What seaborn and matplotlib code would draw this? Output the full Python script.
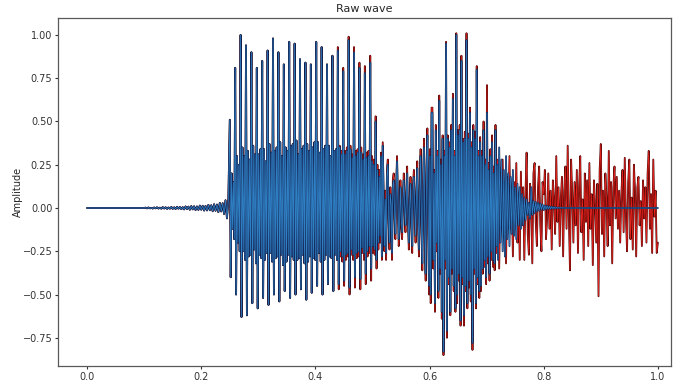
import numpy as np
import matplotlib
matplotlib.use("Agg")
import matplotlib.pyplot as plt
import matplotlib.patheffects as pe
import seaborn as sns

# ---- waveform samples (amplitude), split into time segments ----
lead_vals = [0.0, 0.0]

onset_vals = [
    0.000, 0.002, -0.002, 0.003, -0.002, 0.001, -0.003, 0.003, -0.002, 0.004,
    -0.003, 0.002, -0.004, 0.005, -0.003, 0.004, -0.005, 0.003, -0.004, 0.006,
    -0.005, 0.004, -0.006, 0.007, -0.004, 0.006, -0.007, 0.005, -0.008, 0.009,
    -0.006, 0.008, -0.010, 0.011, -0.008, 0.010, -0.012, 0.009, -0.011, 0.014,
    -0.010, 0.013, -0.015, 0.012, -0.014, 0.018, -0.013, 0.016, -0.019, 0.022,
    -0.016, 0.020, -0.024, 0.030, -0.020, 0.028, -0.035, 0.045, -0.060, 0.050,
]

# one row per pitch period: peak, trough, then the inner ripple
voiced_rows = [
    [0.51, -0.40, 0.20, -0.12, 0.15, -0.18],
    [0.81, -0.50, 0.30, -0.20, 0.25, -0.25],
    [1.00, -0.63, 0.35, -0.25, 0.30, -0.30],
    [0.94, -0.62, 0.33, -0.28, 0.28, -0.27],
    [0.90, -0.55, 0.36, -0.24, 0.31, -0.32],
    [0.81, -0.58, 0.31, -0.27, 0.34, -0.29],
    [0.85, -0.52, 0.34, -0.30, 0.27, -0.26],
    [0.91, -0.56, 0.37, -0.26, 0.32, -0.31],
    [0.98, -0.50, 0.33, -0.29, 0.35, -0.28],
    [0.90, -0.54, 0.38, -0.27, 0.30, -0.33],
    [0.83, -0.48, 0.35, -0.31, 0.33, -0.27],
    [0.96, -0.52, 0.36, -0.28, 0.37, -0.30],
    [0.95, -0.50, 0.39, -0.30, 0.31, -0.29],
    [0.86, -0.47, 0.34, -0.27, 0.36, -0.32],
    [0.84, -0.53, 0.37, -0.31, 0.33, -0.28],
    [0.83, -0.49, 0.35, -0.29, 0.38, -0.30],
    [0.96, -0.45, 0.38, -0.26, 0.32, -0.31],
    [0.93, -0.50, 0.34, -0.30, 0.36, -0.27],
    [0.83, -0.44, 0.36, -0.28, 0.30, -0.29],
    [0.88, -0.48, 0.33, -0.27, 0.34, -0.30],
    [0.91, -0.44, 0.35, -0.25, 0.31, -0.28],
    [0.79, -0.42, 0.31, -0.27, 0.33, -0.26],
    [0.97, -0.46, 0.34, -0.24, 0.29, -0.27],
    [0.90, -0.40, 0.30, -0.26, 0.32, -0.25],
    [0.81, -0.41, 0.32, -0.23, 0.28, -0.26],
    [0.78, -0.38, 0.29, -0.25, 0.30, -0.22],
    [0.84, -0.35, 0.27, -0.22, 0.25, -0.24],
    [0.50, -0.30, 0.22, -0.20, 0.18, -0.16],
]

voiced_rows_raw_tail = [
    [0.93, -0.47, 0.36, -0.28, 0.33, -0.31],
    [0.81, -0.45, 0.33, -0.30, 0.35, -0.28],
    [0.99, -0.50, 0.36, -0.27, 0.31, -0.30],
    [0.93, -0.46, 0.33, -0.29, 0.34, -0.28],
    [0.84, -0.47, 0.35, -0.26, 0.31, -0.30],
    [0.82, -0.44, 0.32, -0.28, 0.33, -0.26],
    [0.88, -0.42, 0.30, -0.26, 0.28, -0.27],
    [0.53, -0.35, 0.25, -0.24, 0.22, -0.20],
]

gap_clean = [
    0.30, -0.28, 0.36, 0.10, -0.22, 0.05, -0.26, 0.18, 0.25, -0.05,
    -0.20, 0.08, 0.02, -0.26, 0.12, 0.16, -0.02, -0.15, 0.10, 0.27,
    0.05, -0.18, -0.08, 0.12, -0.06, -0.14, 0.04, 0.16, 0.02, -0.10,
    0.06, 0.20, -0.04, -0.20, 0.00, 0.14, -0.08, -0.22, 0.10, 0.18,
    0.02, -0.16, 0.06, 0.23, -0.06, -0.24, 0.08, 0.30, -0.10, -0.32,
    0.12, 0.35, -0.15, -0.38, 0.20, 0.42, -0.05, -0.45, 0.30, -0.50,
    0.55,
]

gap_raw = [
    0.32, -0.30, 0.38, 0.05, -0.25, 0.10, -0.30, 0.22, 0.28, -0.08,
    -0.24, 0.12, -0.02, -0.30, 0.16, 0.20, -0.06, -0.18, 0.14, 0.30,
    0.02, -0.22, -0.12, 0.16, -0.10, -0.18, 0.08, 0.20, -0.02, -0.14,
    0.10, 0.24, -0.08, -0.24, 0.04, 0.18, -0.12, -0.26, 0.14, 0.22,
    -0.02, -0.20, 0.10, 0.27, -0.10, -0.28, 0.12, 0.34, -0.14, -0.36,
    0.16, 0.40, -0.20, -0.42, 0.24, 0.46, -0.10, -0.50, 0.34, -0.55,
    0.58,
]

burst_clean = [
    0.55, -0.30, 0.20, -0.55, 0.45, -0.20, 0.30, -0.48, 0.62, -0.35,
    0.25, -0.60, 0.40, -0.83, 0.30, -0.30, 0.95, -0.71, 0.40, -0.40,
    0.35, -0.60, 0.45, -0.35, 0.63, -0.45, 0.30, -0.58, 1.00, -0.50,
    0.42, -0.38, 0.45, -0.65, 0.85, -0.40, 0.38, -0.62, 0.40, -0.45,
    0.97, -0.55, 0.40, -0.42, 0.55, -0.50, 0.35, -0.78, 0.45, -0.35,
    0.40, -0.55, 0.80, -0.40, 0.30, -0.48, 0.38, -0.45, 0.30, -0.35,
    0.45, -0.30, 0.25, -0.40, 0.55, -0.28, 0.22, -0.38, 0.30, -0.25,
    0.38, -0.30, 0.20, -0.32, 0.45, -0.22, 0.25,
]

burst_raw = [
    0.58, -0.35, 0.22, -0.60, 0.48, -0.25, 0.33, -0.52, 0.65, -0.38,
    0.28, -0.64, 0.42, -0.85, 0.33, -0.35, 0.96, -0.75, 0.42, -0.44,
    0.38, -0.62, 0.48, -0.38, 0.66, -0.48, 0.33, -0.60, 1.01, -0.55,
    0.45, -0.42, 0.48, -0.68, 0.88, -0.44, 0.40, -0.68, 0.44, -0.48,
    1.01, -0.58, 0.43, -0.46, 0.58, -0.54, 0.38, -0.82, 0.48, -0.38,
    0.44, -0.58, 0.82, -0.44, 0.33, -0.52, 0.41, -0.48, 0.33, -0.38,
    0.50, -0.34, 0.28, -0.44, 0.71, -0.32, 0.26, -0.42, 0.34, -0.30,
    0.42, -0.34, 0.24, -0.36, 0.48, -0.26, 0.28,
]

decay_clean = [
    -0.30, 0.35, -0.20, 0.28, -0.25, 0.22, -0.28, 0.30, -0.18, 0.20,
    -0.22, 0.18, -0.15, 0.22, -0.16, 0.12, -0.18, 0.14, -0.10, 0.12,
    -0.12, 0.08, -0.10, 0.06, -0.07, 0.05, -0.04, 0.03, -0.06, 0.12,
    -0.04, 0.04, -0.03, 0.035, -0.02, 0.03, -0.015, 0.025, -0.01, 0.02,
    -0.012, 0.015, -0.008, 0.012, -0.006, 0.01, -0.005, 0.008, -0.004, 0.006,
    -0.003, 0.004, -0.002, 0.003, -0.001, 0.002, 0.0, 0.001, 0.0, 0.0,
]

silence_vals = [0.0, 0.0]

tail_raw = [
    0.25, -0.35, 0.10, -0.08, 0.28, -0.15, 0.05, -0.32, 0.18, -0.05,
    0.30, -0.12, 0.08, -0.28, 0.15, -0.06, 0.26, -0.20, 0.04, -0.30,
    0.21, -0.10, 0.12, -0.30, 0.08, 0.32, -0.15, -0.27, 0.14, 0.05,
    -0.32, 0.20, 0.26, -0.08, -0.22, 0.12, 0.24, -0.10, -0.25, 0.15,
    0.08, 0.22, -0.18, -0.06, 0.20, -0.12, 0.10, -0.24, 0.16, 0.05,
    -0.15, 0.30, -0.08, 0.12, -0.22, 0.06, 0.18, -0.28, 0.10, 0.24,
    -0.12, 0.36, -0.05, -0.36, 0.28, 0.08, -0.20, 0.15, -0.10, 0.22,
    -0.26, 0.12, 0.30, -0.14, 0.05, -0.30, 0.20, -0.08, 0.16, -0.22,
    0.26, -0.12, 0.08, -0.33, 0.16, 0.02, -0.20, 0.14, -0.51, 0.22,
    0.37, -0.15, 0.10, -0.28, 0.20, 0.05, -0.22, 0.33, -0.10, 0.15,
    -0.32, 0.12, 0.24, -0.06, 0.18, -0.12, 0.10, -0.20, 0.08, 0.22,
    -0.14, 0.29, -0.05, -0.25, 0.15, 0.28, -0.18, 0.06, -0.24, 0.25,
    0.10, -0.28, 0.12, 0.18, -0.10, 0.04, -0.22, 0.16, -0.06, 0.12,
    -0.20, 0.20, 0.33, -0.12, 0.08, -0.26, 0.28, -0.05, 0.10, -0.26,
    -0.20,
]

# segment boundaries on the normalised time axis
seg_bounds = [0.0, 0.10, 0.25, 0.515, 0.605, 0.72, 0.84, 1.0]


def flat(rows):
    return [v for row in rows for v in row]


def assemble(pieces):
    """pieces: list of (start, end, values, include_end)"""
    ts, vs = [], []
    for start, end, vals, inc in pieces:
        ts.append(np.linspace(start, end, len(vals), endpoint=inc))
        vs.append(np.asarray(vals, dtype=float))
    return np.concatenate(ts), np.concatenate(vs)


b = seg_bounds
t_raw, y_raw = assemble([
    (b[0], b[1], lead_vals, False),
    (b[1], b[2], onset_vals, False),
    (b[2], b[3], flat(voiced_rows[:20] + voiced_rows_raw_tail), False),
    (b[3], b[4], gap_raw, False),
    (b[4], b[5], burst_raw, False),
    (b[5], b[7], tail_raw, True),
])

t_clean, y_clean = assemble([
    (b[0], b[1], lead_vals, False),
    (b[1], b[2], onset_vals, False),
    (b[2], b[3], flat(voiced_rows), False),
    (b[3], b[4], gap_clean, False),
    (b[4], b[5], burst_clean, False),
    (b[5], b[6], decay_clean, False),
    (b[6], b[7], silence_vals, True),
])

sns.set_style("ticks")
plt.rcParams["font.family"] = ["DejaVu Sans"]

fig = plt.figure(figsize=(6.76, 3.82), dpi=100)
ax = fig.add_axes([0.0858, 0.0419, 0.9068, 0.911])

sns.lineplot(x=t_raw, y=y_raw, ax=ax, sort=False, estimator=None,
             color="#e3221c", lw=0.55, zorder=2,
             path_effects=[pe.Stroke(linewidth=1.3, foreground="#4e0606"), pe.Normal()])
sns.lineplot(x=t_clean, y=y_clean, ax=ax, sort=False, estimator=None,
             color="#2f7fc3", lw=0.55, zorder=3,
             path_effects=[pe.Stroke(linewidth=1.3, foreground="#121e4c"), pe.Normal()])

ax.set_xlim(-0.051, 1.023)
ax.set_ylim(-0.913, 1.098)
ax.set_xticks([0.0, 0.2, 0.4, 0.6, 0.8, 1.0])
ax.set_yticks([-0.75, -0.50, -0.25, 0.0, 0.25, 0.50, 0.75, 1.00])
ax.set_yticklabels([f"{v:.2f}".replace("-", "\u2212") for v in ax.get_yticks()])
ax.set_xticklabels([f"{v:.1f}" for v in ax.get_xticks()])
ax.tick_params(labelsize=7, length=2.5, width=0.8, colors="0.2", pad=1.5)
for s in ax.spines.values():
    s.set_color("0.35")
    s.set_linewidth(0.9)
ax.set_title("Raw wave", fontsize=8, pad=4)
ax.set_ylabel("Amplitude", fontsize=7, labelpad=0)

fig.savefig("out.png", dpi=100)
